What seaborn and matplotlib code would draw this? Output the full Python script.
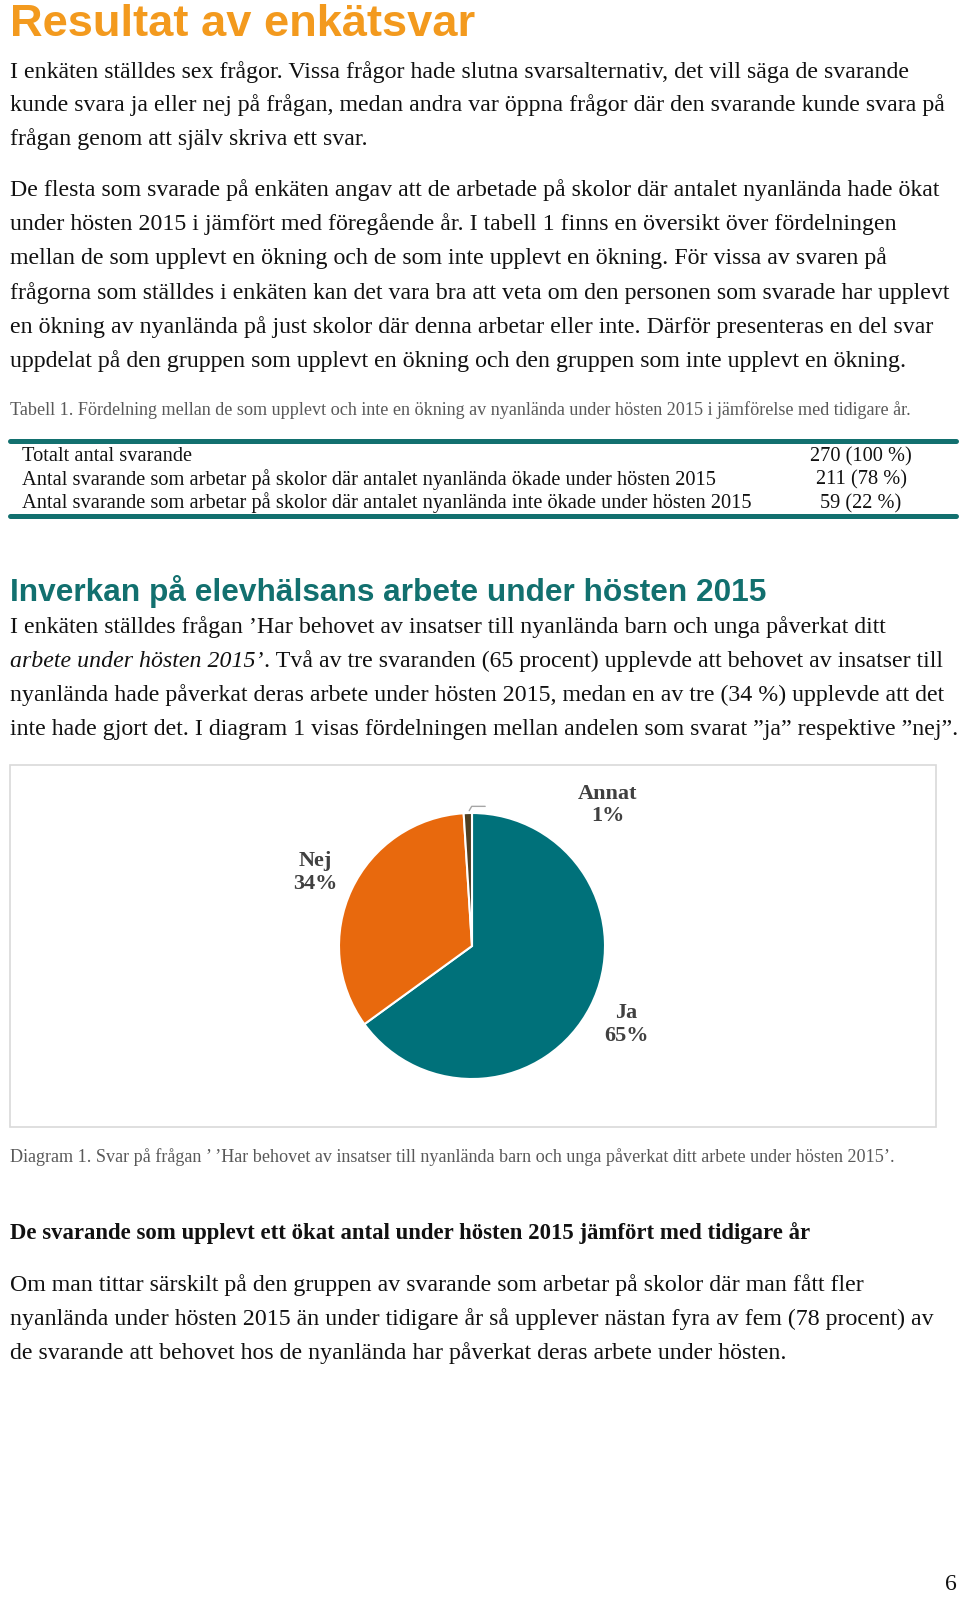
import numpy as np
import matplotlib
matplotlib.use("Agg")
import matplotlib.pyplot as plt
import seaborn as sns
from matplotlib.patches import Rectangle

# Data
kategorier = ["Ja", "Nej", "Annat"]
andelar = [65, 34, 1]
tabell_rader = [
    "Totalt antal svarande",
    "Antal svarande som arbetar på skolor där antalet nyanlända ökade under hösten 2015",
    "Antal svarande som arbetar på skolor där antalet nyanlända inte ökade under hösten 2015",
]
tabell_varden = ["270 (100 %)", "211 (78 %)", "59 (22 %)"]

sns.set_theme(style="white")
plt.rcParams["font.family"] = ["Liberation Serif", "DejaVu Sans"]

W, H = 960, 1600
fig = plt.figure(figsize=(9.6, 16), dpi=100)
fig.patch.set_facecolor("white")
renderer = fig.canvas.get_renderer()

SERIF = "Liberation Serif"
SANS = "Liberation Sans"
ORANGE = "#F39A1E"
TEAL = "#12706F"
GRAY = "#595959"


def fit(s, target, **kw):
    # fontstorlek så att texten får önskad bredd i pixlar
    t = fig.text(0, 0, s, fontsize=10, **kw)
    w = t.get_window_extent(renderer).width
    t.remove()
    return 10 * target / w


def put(x, y, s, size, **kw):
    kw.setdefault("family", SERIF)
    kw.setdefault("color", "#111111")
    t = fig.text(x / W, 1 - y / H, s, fontsize=size, va="baseline", **kw)
    return t


def right_edge(t):
    return t.get_window_extent(renderer).x1


# Rubrik
size_title = fit("Resultat av enkätsvar", 466, family=SANS, weight="bold")
put(10, 36, "Resultat av enkätsvar", size_title, family=SANS, weight="bold", color=ORANGE)

body = fit("I enkäten ställdes sex frågor. Vissa frågor hade slutna svarsalternativ, det vill säga de svarande",
           901, family=SERIF)

para1 = [
    "I enkäten ställdes sex frågor. Vissa frågor hade slutna svarsalternativ, det vill säga de svarande",
    "kunde svara ja eller nej på frågan, medan andra var öppna frågor där den svarande kunde svara på",
    "frågan genom att själv skriva ett svar.",
]
for i, line in enumerate(para1):
    put(10, 78 + i * 33.5, line, body)

para2 = [
    "De flesta som svarade på enkäten angav att de arbetade på skolor där antalet nyanlända hade ökat",
    "under hösten 2015 i jämfört med föregående år. I tabell 1 finns en översikt över fördelningen",
    "mellan de som upplevt en ökning och de som inte upplevt en ökning. För vissa av svaren på",
    "frågorna som ställdes i enkäten kan det vara bra att veta om den personen som svarade har upplevt",
    "en ökning av nyanlända på just skolor där denna arbetar eller inte. Därför presenteras en del svar",
    "uppdelat på den gruppen som upplevt en ökning och den gruppen som inte upplevt en ökning.",
]
for i, line in enumerate(para2):
    put(10, 196 + i * 34.2, line, body)

# Tabell
cap1 = "Tabell 1. Fördelning mellan de som upplevt och inte en ökning av nyanlända under hösten 2015 i jämförelse med tidigare år."
put(10, 415, cap1, fit(cap1, 905, family=SERIF), color=GRAY)

tab_size = fit(tabell_rader[2], 731, family=SERIF)
for i, (rad, varde) in enumerate(zip(tabell_rader, tabell_varden)):
    y = 461 + i * 23.5
    put(22, y, rad, tab_size)
    put(861, y, varde, tab_size, ha="center")

for y in (441, 516):
    fig.add_artist(plt.Line2D([10 / W, 956 / W], [1 - y / H, 1 - y / H], color=TEAL, lw=3.6))

# Rubrik 2
h2 = "Inverkan på elevhälsans arbete under hösten 2015"
put(10, 601, h2, fit(h2, 758, family=SANS, weight="bold"), family=SANS, weight="bold", color=TEAL)

t = put(10, 633, "I enkäten ställdes frågan ’Har behovet av insatser till nyanlända barn och unga påverkat ditt", body)
t = put(10, 667, "arbete under hösten 2015’", body, style="italic")
x1 = right_edge(t)
put(x1 + 1, 667, ". Två av tre svaranden (65 procent) upplevde att behovet av insatser till", body)
put(10, 701, "nyanlända hade påverkat deras arbete under hösten 2015, medan en av tre (34 %) upplevde att det", body)
put(10, 735, "inte hade gjort det. I diagram 1 visas fördelningen mellan andelen som svarat ”ja” respektive ”nej”.", body)

# Diagramram
fig.add_artist(Rectangle((10 / W, 1 - 1127 / H), 926 / W, 362 / H, transform=fig.transFigure,
                         facecolor="none", edgecolor="#d9d9d9", lw=1.2))

# Cirkeldiagram
cx, cy, r = 472, 946, 133
ax = fig.add_axes([(cx - r) / W, 1 - (cy + r) / H, 2 * r / W, 2 * r / H])
farger = ["#00717A", "#E8690D", "#4E3E22"]
wedges, _ = ax.pie(andelar, colors=farger, startangle=90, counterclock=False,
                   wedgeprops=dict(edgecolor="white", linewidth=1.5))
ax.set_xlim(-1, 1)
ax.set_ylim(-1, 1)
ax.axis("off")

lab_kw = dict(family=SERIF, weight="bold", color="#404040", fontsize=16,
              ha="center", va="center", linespacing=1.15)
for w, namn, v in zip(wedges[:2], kategorier[:2], andelar[:2]):
    th = np.deg2rad((w.theta1 + w.theta2) / 2)
    ax.text(1.3 * np.cos(th), 1.3 * np.sin(th), f"{namn}\n{v}%", **lab_kw)

# Annat med hänvisningslinje
w = wedges[2]
th = np.deg2rad((w.theta1 + w.theta2) / 2)
ax.annotate("", xy=(np.cos(th), np.sin(th)), xytext=(0.12, 1.05),
            arrowprops=dict(arrowstyle="-", color="#a6a6a6", lw=1,
                            connectionstyle="angle,angleA=0,angleB=60,rad=0"),
            annotation_clip=False)
ax.text(1.02, 1.06, f"{kategorier[2]}\n{andelar[2]}%", **lab_kw)

cap2 = "Diagram 1. Svar på frågan ’ ’Har behovet av insatser till nyanlända barn och unga påverkat ditt arbete under hösten 2015’."
put(10, 1162, cap2, fit(cap2, 888, family=SERIF), color=GRAY)

h3 = "De svarande som upplevt ett ökat antal under hösten 2015 jämfört med tidigare år"
put(10, 1239, h3, fit(h3, 804, family=SERIF, weight="bold"), weight="bold")

para4 = [
    "Om man tittar särskilt på den gruppen av svarande som arbetar på skolor där man fått fler",
    "nyanlända under hösten 2015 än under tidigare år så upplever nästan fyra av fem (78 procent) av",
    "de svarande att behovet hos de nyanlända har påverkat deras arbete under hösten.",
]
for i, line in enumerate(para4):
    put(10, 1291 + i * 34, line, body)

put(957, 1590, "6", body, ha="right")

fig.savefig("out.png", dpi=100, facecolor="white")
